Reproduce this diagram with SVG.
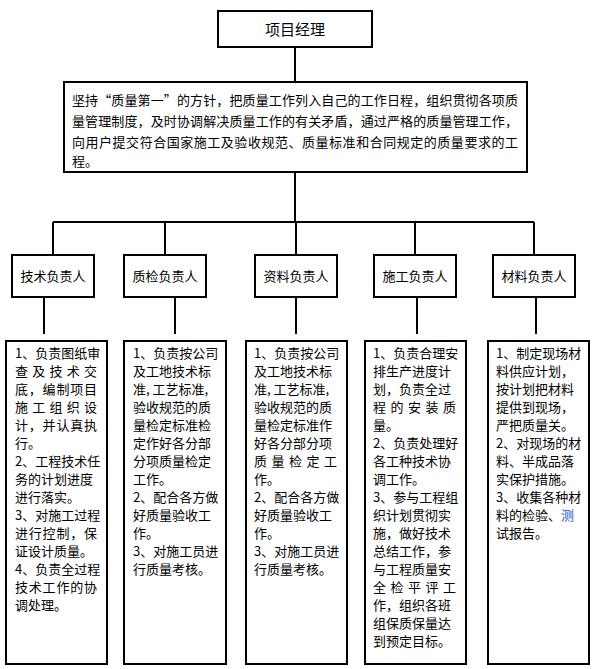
<svg xmlns="http://www.w3.org/2000/svg" width="601" height="669" viewBox="0 0 601 669">
<style>
rect{fill:#fff;stroke:#000;stroke-width:2}
text{font-family:"Noto Sans CJK SC","Noto Sans CJK JP",sans-serif;font-size:13px;fill:#000}
.c line{stroke:#000;stroke-width:2}
.h{font-size:13px;text-anchor:middle}
</style>
<rect x="0" y="0" width="601" height="669" style="stroke:none"/>
<g class="c">
<line x1="295" y1="47" x2="295" y2="82"/>
<line x1="295" y1="172" x2="295" y2="222"/>
<line x1="53" y1="222" x2="534" y2="222"/>
<line x1="53" y1="222" x2="53" y2="255"/>
<line x1="165" y1="222" x2="165" y2="255"/>
<line x1="296" y1="222" x2="296" y2="255"/>
<line x1="415" y1="222" x2="415" y2="255"/>
<line x1="534" y1="222" x2="534" y2="255"/>
<line x1="44" y1="297" x2="44" y2="334"/>
<line x1="175" y1="297" x2="175" y2="334"/>
<line x1="296" y1="297" x2="296" y2="334"/>
<line x1="417" y1="297" x2="417" y2="334"/>
<line x1="536" y1="297" x2="536" y2="334"/>
</g>
<g id="pm"><rect x="218" y="11" width="154" height="36"/><text x="295" y="35" class="h" style="font-size:15px">项目经理</text></g>
<g id="policy"><rect x="64" y="82" width="463" height="90"/>
<text x="72" y="105" textLength="446">坚持“质量第一”的方针，把质量工作列入自己的工作日程，组织贯彻各项质</text>
<text x="72" y="126" textLength="446">量管理制度，及时协调解决质量工作的有关矛盾，通过严格的质量管理工作，</text>
<text x="72" y="147" textLength="446">向用户提交符合国家施工及验收规范、质量标准和合同规定的质量要求的工</text>
<text x="72" y="166">程。</text></g>
<g id="n1"><rect x="12" y="255" width="82" height="42"/><text x="53" y="281" class="h">技术负责人</text></g>
<g id="n2"><rect x="124" y="255" width="82" height="42"/><text x="165" y="281" class="h">质检负责人</text></g>
<g id="n3"><rect x="255" y="255" width="82" height="42"/><text x="296" y="281" class="h">资料负责人</text></g>
<g id="n4"><rect x="374" y="255" width="82" height="42"/><text x="415" y="281" class="h">施工负责人</text></g>
<g id="n5"><rect x="493" y="255" width="82" height="42"/><text x="534" y="281" class="h">材料负责人</text></g>
<g id="d1"><rect x="6" y="341" width="101" height="323"/>
<text x="15" y="358">1、负责图纸审</text><text x="15" y="376" textLength="82">查及技术交</text><text x="15" y="394" textLength="82">底，编制项目</text><text x="15" y="412" textLength="82">施工组织设</text><text x="15" y="430" textLength="82">计，并认真执</text><text x="15" y="448">行。</text><text x="15" y="466">2、工程技术任</text><text x="15" y="484">务的计划进度</text><text x="15" y="502">进行落实。</text><text x="15" y="520">3、对施工过程</text><text x="15" y="538" textLength="82">进行控制，保</text><text x="15" y="556">证设计质量。</text><text x="15" y="574">4、负责全过程</text><text x="15" y="592" textLength="82">技术工作的协</text><text x="15" y="610">调处理。</text></g>
<g id="d2"><rect x="124" y="341" width="102" height="323"/>
<text x="133" y="358">1、负责按公司</text><text x="133" y="376">及工地技术标</text><text x="133" y="394">准, 工艺标准,</text><text x="133" y="412">验收规范的质</text><text x="133" y="430">量检定标准检</text><text x="133" y="448">定作好各分部</text><text x="133" y="466">分项质量检定</text><text x="133" y="484">工作。</text><text x="133" y="502">2、配合各方做</text><text x="133" y="520">好质量验收工</text><text x="133" y="538">作。</text><text x="133" y="556">3、对施工员进</text><text x="133" y="574">行质量考核。</text></g>
<g id="d3"><rect x="246" y="341" width="101" height="323"/>
<text x="254" y="358">1、负责按公司</text><text x="254" y="376">及工地技术标</text><text x="254" y="394">准, 工艺标准,</text><text x="254" y="412">验收规范的质</text><text x="254" y="430">量检定标准作</text><text x="254" y="448">好各分部分项</text><text x="254" y="466" textLength="83">质量检定工</text><text x="254" y="484">作。</text><text x="254" y="502">2、配合各方做</text><text x="254" y="520">好质量验收工</text><text x="254" y="538">作。</text><text x="254" y="556">3、对施工员进</text><text x="254" y="574">行质量考核。</text></g>
<g id="d4"><rect x="365" y="341" width="101" height="323"/>
<text x="373" y="358">1、负责合理安</text><text x="373" y="376">排生产进度计</text><text x="373" y="394">划，负责全过</text><text x="373" y="412" textLength="83">程的安装质</text><text x="373" y="430">量。</text><text x="373" y="448">2、负责处理好</text><text x="373" y="466">各工种技术协</text><text x="373" y="484">调工作。</text><text x="373" y="502">3、参与工程组</text><text x="373" y="520">织计划贯彻实</text><text x="373" y="538">施，做好技术</text><text x="373" y="556">总结工作，参</text><text x="373" y="574">与工程质量安</text><text x="373" y="592" textLength="83">全检平评工</text><text x="373" y="610">作，组织各班</text><text x="373" y="628">组保质保量达</text><text x="373" y="646">到预定目标。</text></g>
<g id="d5"><rect x="488" y="341" width="101" height="323"/>
<text x="496" y="358">1、制定现场材</text><text x="496" y="376">料供应计划，</text><text x="496" y="394">按计划把材料</text><text x="496" y="412">提供到现场，</text><text x="496" y="430">严把质量关。</text><text x="496" y="448">2、对现场的材</text><text x="496" y="466">料、半成品落</text><text x="496" y="484">实保护措施。</text><text x="496" y="502">3、收集各种材</text><text x="496" y="520">料的检验、<tspan fill="#1a4fd6">测</tspan></text><text x="496" y="538">试报告。</text></g>
</svg>
